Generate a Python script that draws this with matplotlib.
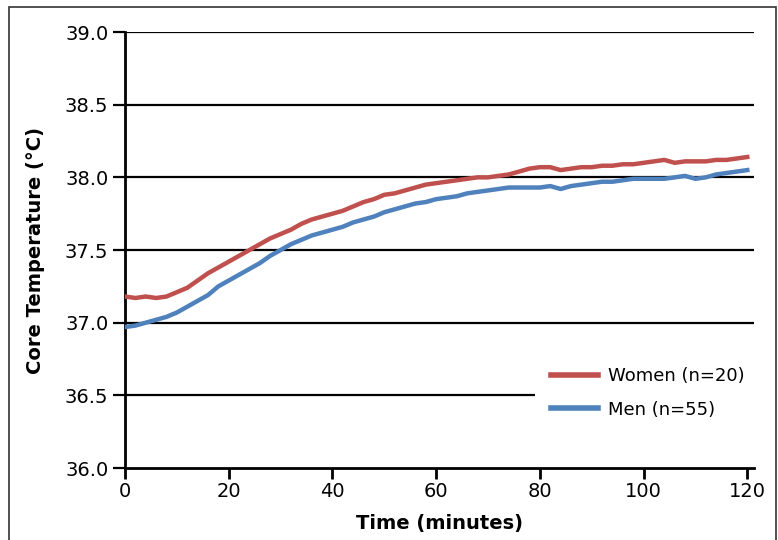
import matplotlib
matplotlib.use("Agg")
import matplotlib.pyplot as plt
from matplotlib.patches import Rectangle

# time in minutes, sampled every 2 min
minutes = list(range(0, 121, 2))

women = [37.18, 37.17, 37.18, 37.17, 37.18, 37.21, 37.24, 37.29, 37.34, 37.38,
         37.42, 37.46, 37.50, 37.54, 37.58, 37.61, 37.64, 37.68, 37.71, 37.73,
         37.75, 37.77, 37.80, 37.83, 37.85, 37.88, 37.89, 37.91, 37.93, 37.95,
         37.96, 37.97, 37.98, 37.99, 38.00, 38.00, 38.01, 38.02, 38.04, 38.06,
         38.07, 38.07, 38.05, 38.06, 38.07, 38.07, 38.08, 38.08, 38.09, 38.09,
         38.10, 38.11, 38.12, 38.10, 38.11, 38.11, 38.11, 38.12, 38.12, 38.13,
         38.14]

men = [36.97, 36.98, 37.00, 37.02, 37.04, 37.07, 37.11, 37.15, 37.19, 37.25,
       37.29, 37.33, 37.37, 37.41, 37.46, 37.50, 37.54, 37.57, 37.60, 37.62,
       37.64, 37.66, 37.69, 37.71, 37.73, 37.76, 37.78, 37.80, 37.82, 37.83,
       37.85, 37.86, 37.87, 37.89, 37.90, 37.91, 37.92, 37.93, 37.93, 37.93,
       37.93, 37.94, 37.92, 37.94, 37.95, 37.96, 37.97, 37.97, 37.98, 37.99,
       37.99, 37.99, 37.99, 38.00, 38.01, 37.99, 38.00, 38.02, 38.03, 38.04,
       38.05]

x_ticks = [0, 20, 40, 60, 80, 100, 120]
y_ticks = [36.0, 36.5, 37.0, 37.5, 38.0, 38.5, 39.0]
labels = ["Women (n=20)", "Men (n=55)"]

fig = plt.figure(figsize=(7.78, 5.40), dpi=100)
ax = fig.add_axes([0.1607, 0.1333, 0.8085, 0.8074])

# outer frame around the whole figure (bottom edge runs off the image)
fig.patches.append(Rectangle((9/778, -0.05), 767/778, 1.05 - 7/540,
                             transform=fig.transFigure, fill=False,
                             edgecolor="#333333", linewidth=1.2))

ax.set_xlim(0, 121.3)
ax.set_ylim(36.0, 39.0)
ax.set_xticks(x_ticks)
ax.set_yticks(y_ticks)
ax.set_yticklabels([f"{v:.1f}" for v in y_ticks])

for v in y_ticks[1:]:
    ax.axhline(v, color="black", linewidth=1.6, zorder=1)

ax.plot(minutes, women, color="#c0504d", linewidth=3.2, label=labels[0], zorder=3)
ax.plot(minutes, men, color="#4f81bd", linewidth=3.2, label=labels[1], zorder=3)

for s in ["top", "right"]:
    ax.spines[s].set_visible(False)
for s in ["left", "bottom"]:
    ax.spines[s].set_linewidth(2)
    ax.spines[s].set_color("black")

ax.tick_params(axis="y", direction="out", length=9, width=1.6, labelsize=14, pad=3)
ax.tick_params(axis="x", direction="out", length=8, width=2, labelsize=14, pad=2)

ax.set_xlabel("Time (minutes)", fontsize=14, fontweight="bold")
ax.set_ylabel("Core Temperature (°C)", fontsize=14, fontweight="bold")
ax.xaxis.set_label_coords(0.5, -0.106)
ax.yaxis.set_label_coords(-0.128, 0.5)

leg = ax.legend(loc="lower right", bbox_to_anchor=(1.025, 0.055), fontsize=13,
                frameon=True, facecolor="white", edgecolor="none", framealpha=1,
                handlelength=2.6, handletextpad=0.55, labelspacing=0.85,
                borderpad=0.9)
leg.set_zorder(5)
for line in leg.get_lines():
    line.set_linewidth(4)

fig.savefig("out.png", dpi=100)
